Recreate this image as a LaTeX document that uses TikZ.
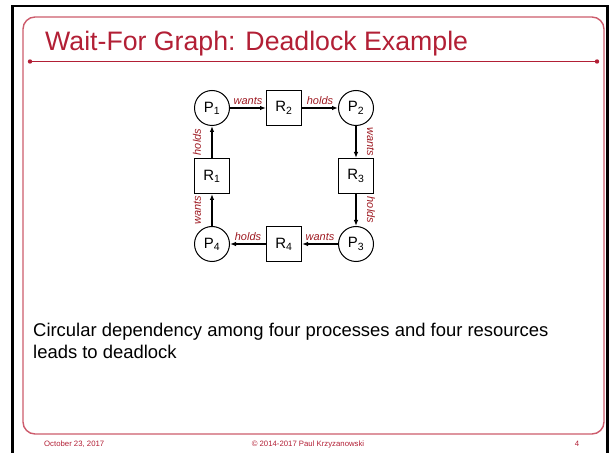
\documentclass[tikz,border=0pt]{standalone}
\usepackage{fontspec}
\setmainfont{Liberation Sans}
\usetikzlibrary{arrows.meta}
\definecolor{titlered}{HTML}{B21F35}
\definecolor{framepink}{HTML}{CD5C6C}
\definecolor{labelred}{HTML}{9E1A22}

\begin{document}
\begin{tikzpicture}[x=1bp,y=-1bp,
  proc node/.style={circle,draw,line width=1bp,minimum size=35bp,inner sep=0pt,font=\fontsize{15}{15}\selectfont},
  res node/.style={rectangle,draw,line width=1bp,minimum size=35bp,inner sep=0pt,font=\fontsize{15}{15}\selectfont},
  slide text/.style={anchor=base west,inner sep=0pt}, ]
  \useasboundingbox (0,0) rectangle (613,453);

  % slide frame
  \draw[line width=2.6bp] (12.5,453) -- (12.5,6) -- (607.5,6) -- (607.5,453);
  \draw[framepink,line width=1.4bp,rounded corners=12bp] (23,17) rectangle (604,434);
  \node[slide text,text=titlered,font=\fontsize{26.8}{30}\selectfont] (title) at (45,51) {Wait-For Graph: Deadlock Example};
  \coordinate (tl) at (30,61.5);
  \coordinate (tr) at (597,61.5);
  \draw[titlered,line width=1.2bp] (tl) -- (tr);
  \fill[titlered] (tl) circle (2.2bp) (tr) circle (2.2bp);

    \node[proc node] (p1) at (212,108) {P\textsubscript{1}};
     \node[res node] (r2) at (284,108) {R\textsubscript{2}};
     \node[proc node] (p2) at (356,108) {P\textsubscript{2}};
     \node[res node] (r1) at (212,176) {R\textsubscript{1}};
  \node[res node] (r3) at (356,176) {R\textsubscript{3}};
  \node[proc node] (p4) at (212,244) {P\textsubscript{4}};
  \node[res node] (r4) at (284,244) {R\textsubscript{4}};
  \node[proc node] (p3) at (356,244) {P\textsubscript{3}};

  \path[-{Latex[length=6bp,width=4.5bp]},line width=1.1bp,
    every node/.style={font=\itshape\fontsize{11}{13}\selectfont,text=labelred,inner sep=2.5bp}]
  (p1) edge node[above]{wants}(r2)
  (r2) edge node[above]{holds}(p2)
  (p2) edge node[above,xshift=8bp,rotate=-90]{wants}(r3)
  (r3) edge node[above,xshift=8bp,rotate=-90]{holds}(p3)
  (p3) edge node[above]{wants}(r4)
  (r4) edge node[above]{holds}(p4)
  (p4) edge node[above,xshift=-8bp,rotate=90]{wants}(r1)
  (r1) edge node[above,xshift=-8bp,rotate=90]{holds}(p1);

  \node[slide text,font=\fontsize{18.5}{22}\selectfont] (body1) at (33,336) {Circular dependency among four processes and four resources};
  \node[slide text,font=\fontsize{18.5}{22}\selectfont] (body2) at (33,358) {leads to deadlock};

  % footer
  \node[slide text,text=titlered,font=\fontsize{7.8}{9}\selectfont] (date) at (44,446) {October 23, 2017};
  \node[anchor=base,inner sep=0pt,text=titlered,font=\fontsize{7.8}{9}\selectfont] (copy) at (308,446) {© 2014-2017 Paul Krzyzanowski};
  \node[anchor=base,inner sep=0pt,text=titlered,font=\fontsize{7.8}{9}\selectfont] (page) at (577,446) {4};
\end{tikzpicture}
\end{document}
